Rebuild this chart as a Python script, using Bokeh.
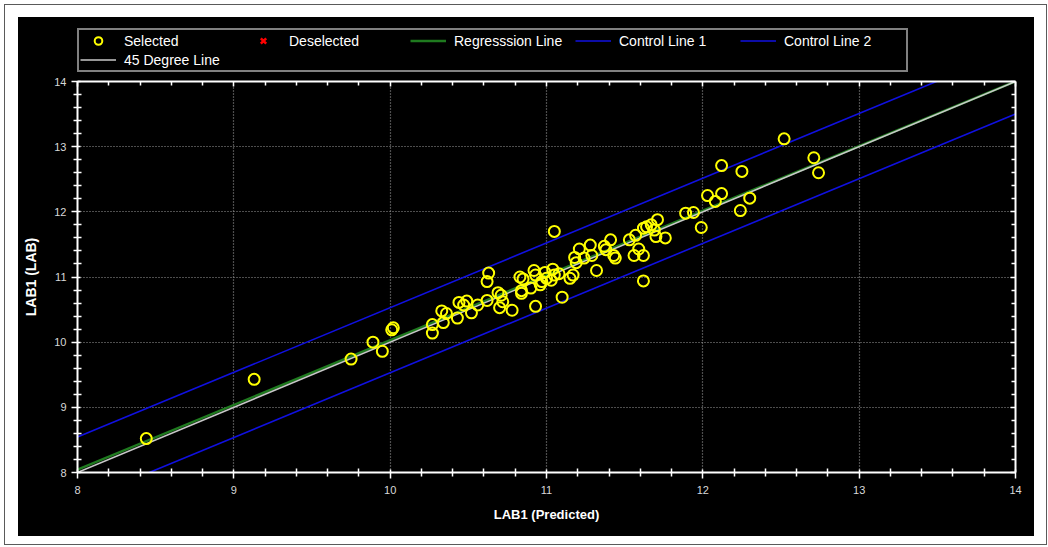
from bokeh.plotting import figure
from bokeh.models import (LinearAxis, Legend, LegendItem, Range1d, Spacer,
                          ColumnDataSource, FixedTicker, CustomJSTickFormatter)
from bokeh.layouts import column, row
from bokeh.embed import file_html
from bokeh.resources import INLINE

# ---------------- data ----------------
pred = [8.44, 9.13, 9.75, 9.89, 9.95, 10.02, 10.01, 10.27, 10.27, 10.33,
        10.36, 10.34, 10.43, 10.44, 10.49, 10.47, 10.52, 10.56, 10.62, 10.62,
        10.63, 10.69, 10.71, 10.72, 10.70, 10.78, 10.84, 10.84, 10.83, 10.85,
        10.90, 10.92, 10.93, 10.96, 10.93, 10.99, 11.00, 11.04, 11.03, 11.05,
        10.97, 11.08, 11.05, 11.10, 11.15, 11.17, 11.18, 11.19, 11.21, 11.24,
        11.28, 11.29, 11.32, 11.37, 11.38, 11.41, 11.43, 11.44, 11.53, 11.57,
        11.56, 11.59, 11.62, 11.62, 11.62, 11.64, 11.67, 11.69, 11.71, 11.70,
        11.76, 11.89, 11.94, 11.99, 12.03, 12.12, 12.08, 12.30, 12.24, 12.12,
        12.25, 12.52, 12.71, 12.74]
lab = [8.52, 9.43, 9.74, 10.00, 9.86, 10.22, 10.19, 10.27, 10.14, 10.48,
       10.44, 10.30, 10.37, 10.61, 10.63, 10.57, 10.45, 10.57, 10.64, 10.93,
       11.06, 10.76, 10.72, 10.62, 10.53, 10.49, 10.79, 10.75, 11.00, 10.97,
       10.83, 11.10, 10.55, 10.88, 11.03, 11.07, 10.98, 11.12, 10.95, 11.03,
       10.93, 11.05, 11.70, 10.69, 10.98, 11.03, 11.30, 11.22, 11.43, 11.29,
       11.49, 11.33, 11.10, 11.47, 11.42, 11.57, 11.33, 11.29, 11.57, 11.64,
       11.33, 11.43, 11.33, 10.94, 11.75, 11.77, 11.80, 11.72, 11.88, 11.62,
       11.60, 11.98, 11.99, 11.76, 12.25, 12.28, 12.16, 12.21, 12.02, 12.71,
       12.62, 13.12, 12.83, 12.60]
# no deselected points in this run (placeholder keeps the legend glyph)
deselected_pred = [float("nan")]
deselected_lab = [float("nan")]

axis_min, axis_max = 8, 14
axis_ticks = [8, 9, 10, 11, 12, 13, 14]
line_x = [8, 14]
control_offset = 0.5
reg_slope, reg_intercept = 0.993, 0.10

legend_labels = ["Selected", "Deselected", "Regresssion Line",
                 "Control Line 1", "Control Line 2", "45 Degree Line"]
x_title = "LAB1 (Predicted)"
y_title = "LAB1 (LAB)"

FONT = "Liberation Sans"
W = 1016
LEG_H = 60
MAIN_H = 459

minor = [t + k * 0.2 for t in axis_ticks[:-1] for k in range(1, 5)]

# ---------------- shared sources ----------------
reg_y = [reg_slope * v + reg_intercept for v in line_x]
src_line = ColumnDataSource(dict(
    x=line_x,
    up=[v + control_offset for v in reg_y],
    lo=[v - control_offset for v in reg_y],
    reg=reg_y,
    deg=line_x,
))
src_pts = ColumnDataSource(dict(x=pred, y=lab))
src_des = ColumnDataSource(dict(x=deselected_pred, y=deselected_lab))

STY = dict(
    c1=dict(line_color="#1010e0", line_width=1.6),
    c2=dict(line_color="#1010e0", line_width=1.6),
    reg=dict(line_color="#1f7a1f", line_width=2.5),
    deg=dict(line_color="#c8c8c8", line_width=1.5),
    sel=dict(marker="circle", size=11, fill_color=None, line_color="#ffff00", line_width=2),
    des=dict(marker="x", size=12, line_color="red", line_width=2.5),
)

def add_renderers(fig):
    r = {}
    r["c1"] = fig.line("x", "up", source=src_line, **STY["c1"])
    r["c2"] = fig.line("x", "lo", source=src_line, **STY["c2"])
    r["reg"] = fig.line("x", "reg", source=src_line, **STY["reg"])
    r["deg"] = fig.line("x", "deg", source=src_line, **STY["deg"])
    r["sel"] = fig.scatter("x", "y", source=src_pts, **STY["sel"])
    r["des"] = fig.scatter("x", "y", source=src_des, **STY["des"])
    return r

# ---------------- main plot ----------------
p = figure(width=W, height=MAIN_H,
           x_range=Range1d(axis_min, axis_max), y_range=Range1d(axis_min, axis_max),
           output_backend="svg", toolbar_location=None,
           background_fill_color="black", border_fill_color="black",
           outline_line_color=None,
           min_border_left=59, min_border_right=19,
           min_border_top=4, min_border_bottom=64)

for g in (p.xgrid, p.ygrid):
    g.ticker = FixedTicker(ticks=axis_ticks)
    g.grid_line_color = "#9a9a9a"
    g.grid_line_dash = "1 2"
    g.grid_line_width = 1.2

def style_axis(ax, labels=True):
    ax.ticker = FixedTicker(ticks=axis_ticks, minor_ticks=minor)
    ax.axis_line_color = "white"
    ax.axis_line_width = 2
    ax.major_tick_line_color = "white"
    ax.minor_tick_line_color = "white"
    ax.major_tick_line_width = 1.5
    ax.minor_tick_line_width = 1.5
    ax.major_label_text_color = "#d8d8d8"
    ax.major_label_text_font = FONT
    ax.major_label_text_font_size = "11px"
    ax.axis_label_text_color = "white"
    ax.axis_label_text_font = FONT
    ax.axis_label_text_font_style = "bold"
    if labels:
        ax.major_tick_in = 3
        ax.major_tick_out = 6
        ax.minor_tick_in = 4
        ax.minor_tick_out = 4
    else:
        ax.major_tick_in = 5
        ax.major_tick_out = 0
        ax.minor_tick_in = 4
        ax.minor_tick_out = 0
        ax.formatter = CustomJSTickFormatter(code="return ''")
        ax.major_label_standoff = 0
        ax.major_label_text_font_size = "1px"

xb = p.xaxis[0]
yl = p.yaxis[0]
style_axis(xb)
style_axis(yl)
xb.axis_label = x_title
xb.axis_label_text_font_size = "13px"
xb.axis_label_standoff = 10
xb.major_label_standoff = 7
yl.axis_label = y_title
yl.axis_label_text_font_size = "14px"
yl.axis_label_standoff = 12
yl.major_label_standoff = 5

ra = LinearAxis()
style_axis(ra, labels=False)
p.add_layout(ra, "right")
ta = LinearAxis()
style_axis(ta, labels=False)
p.add_layout(ta, "above")

add_renderers(p)

# ---------------- legend strip ----------------
lf = figure(width=W, height=LEG_H, x_range=Range1d(0, 1), y_range=Range1d(0, 1),
            output_backend="svg", toolbar_location=None,
            x_axis_location=None, y_axis_location=None,
            background_fill_color="black", border_fill_color="black",
            outline_line_color=None, min_border=0)
lf.xgrid.visible = False
lf.ygrid.visible = False
lr = add_renderers(lf)

legend = Legend(items=[
    LegendItem(label=legend_labels[0], renderers=[lr["sel"]]),
    LegendItem(label=legend_labels[1], renderers=[lr["des"]]),
    LegendItem(label=legend_labels[2], renderers=[lr["reg"]]),
    LegendItem(label=legend_labels[3], renderers=[lr["c1"]]),
    LegendItem(label=legend_labels[4], renderers=[lr["c2"]]),
    LegendItem(label=legend_labels[5], renderers=[lr["deg"]]),
])
legend.orientation = "horizontal"
legend.ncols = 5
legend.location = (0, 5)
legend.glyph_width = 36
legend.glyph_height = 19
legend.label_standoff = 8
legend.label_width = 121
legend.label_height = 17
legend.spacing = 0
legend.padding = 1
legend.margin = 0
legend.border_line_color = "white"
legend.border_line_width = 2
legend.background_fill_color = "black"
legend.background_fill_alpha = 1
legend.label_text_color = "white"
legend.label_text_font = FONT
legend.label_text_font_size = "14px"
lf.add_layout(legend, "center")

inner = column(lf, p, spacing=0, styles={"background-color": "black"})
body = row(Spacer(width=13, height=LEG_H + MAIN_H), inner,
           Spacer(width=12, height=LEG_H + MAIN_H), spacing=0)
layout = column(Spacer(width=W + 25, height=12), body,
                Spacer(width=W + 25, height=8), spacing=0,
                margin=(4, 0, 0, 4),
                styles={"border": "1px solid #5a5a5a", "background-color": "white"})

open("out.html", "w").write(file_html(layout, INLINE))
